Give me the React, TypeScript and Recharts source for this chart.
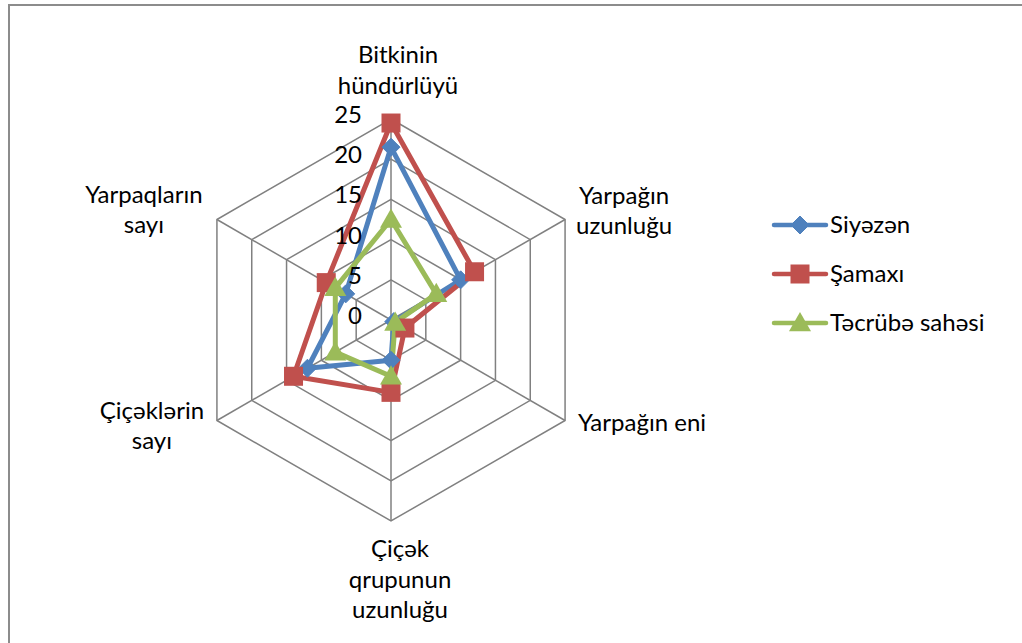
import { RadarChart, Radar, PolarGrid, PolarAngleAxis, PolarRadiusAxis } from "recharts";

const categories = [
  "Bitkinin hündürlüyü",
  "Yarpağın uzunluğu",
  "Yarpağın eni",
  "Çiçək qrupunun uzunluğu",
  "Çiçəklərin sayı",
  "Yarpaqların sayı",
];
const labelLines = [
  ["Bitkinin", "hündürlüyü"],
  ["Yarpağın", "uzunluğu"],
  ["Yarpağın eni"],
  ["Çiçək", "qrupunun", "uzunluğu"],
  ["Çiçəklərin", "sayı"],
  ["Yarpaqların", "sayı"],
];
const siyazen = [21.5, 10, 0.4, 5, 12, 6.5];
const shamaxi = [24.5, 12, 2, 9, 14, 9.3];
const tacrube = [12.5, 6.5, 0.6, 7, 8, 8];
const radiusTicks = [0, 5, 10, 15, 20, 25];

const seriesNames = ["Siyəzən", "Şamaxı", "Təcrübə sahəsi"];
const COLORS = ["#4F81BD", "#C0504D", "#9BBB59"];

const data = categories.map((c, i) => ({
  name: c,
  s: siyazen[i],
  m: shamaxi[i],
  t: tacrube[i],
}));

// chart geometry (chart coords; wrapper sits at page 8,4)
const CX = 383;
const CY = 316;
const R = 201;
const FONT = "Lato, 'Open Sans', sans-serif";
const FS = 24;

// label offsets from each spoke's outer vertex: [dx, firstBaselineDy, anchor]
const LABEL_POS: [number, number, "start" | "middle" | "end"][] = [
  [7, -56, "middle"],
  [59, -16, "middle"],
  [13, 10, "start"],
  [9, 36, "middle"],
  [-65, -2, "middle"],
  [-73, -17, "middle"],
];

function AngleTick(props: any) {
  const idx = categories.indexOf(props.payload.value);
  const a = ((90 - idx * 60) * Math.PI) / 180;
  const vx = CX + R * Math.cos(a);
  const vy = CY - R * Math.sin(a);
  const [dx, dy, anchor] = LABEL_POS[idx];
  return (
    <text x={vx + dx} y={vy + dy} textAnchor={anchor} fontFamily={FONT} fontSize={FS} fill="#000">
      {labelLines[idx].map((l, k) => (
        <tspan key={k} x={vx + dx} dy={k === 0 ? 0 : 30.5}>
          {l}
        </tspan>
      ))}
    </text>
  );
}

function RadiusTick(props: any) {
  return (
    <text x={props.x - 29} y={props.y} dy={4} textAnchor="end" fontFamily={FONT} fontSize={FS} fill="#000">
      {props.payload.value}
    </text>
  );
}

function marker(kind: number, cx: number, cy: number, key?: any) {
  if (kind === 0) {
    const s = 9;
    return (
      <path key={key} d={`M${cx},${cy - s} L${cx + s},${cy} L${cx},${cy + s} L${cx - s},${cy} Z`} fill={COLORS[0]} stroke={COLORS[0]} />
    );
  }
  if (kind === 1) {
    const s = 9.5;
    return <rect key={key} x={cx - s} y={cy - s} width={2 * s} height={2 * s} fill={COLORS[1]} />;
  }
  const s = 11;
  return (
    <path key={key} d={`M${cx},${cy - s} L${cx + s},${cy + s * 0.75} L${cx - s},${cy + s * 0.75} Z`} fill={COLORS[2]} />
  );
}

const dotFor = (kind: number) => (p: any) => marker(kind, p.cx, p.cy, p.key ?? `${kind}-${p.index}`);

function LegendBox() {
  const rows = [223, 272, 321];
  return (
    <svg width={262} height={180} style={{ position: "absolute", left: 760, top: 180 }}>
      {seriesNames.map((n, i) => {
        const y = rows[i] - 180;
        return (
          <g key={n}>
            <line x1={12} x2={64} y1={y} y2={y} stroke={COLORS[i]} strokeWidth={4.5} strokeLinecap="round" />
            {marker(i, 38, y)}
            <text x={68} y={y} dy={8} fontFamily={FONT} fontSize={FS} fill="#000">
              {n}
            </text>
          </g>
        );
      })}
    </svg>
  );
}

export default function App() {
  const keys = ["s", "m", "t"];
  return (
    <div
      style={{
        position: "absolute",
        left: 8,
        top: 4,
        width: 1014,
        height: 639,
        borderTop: "2px solid #8c8c8c",
        borderLeft: "2px solid #8c8c8c",
        boxSizing: "border-box",
        background: "#fff",
      }}
    >
      <div style={{ position: "absolute", left: -2, top: -2 }}>
        <RadarChart width={1014} height={639} data={data} cx={CX} cy={CY} outerRadius={R}>
          <PolarGrid gridType="polygon" stroke="#808080" strokeWidth={1.5} />
          <PolarAngleAxis dataKey="name" tick={AngleTick} tickLine={false} axisLine={false} />
          <PolarRadiusAxis
            angle={90}
            domain={[0, 25]}
            ticks={radiusTicks as any}
            tickCount={6}
            tick={RadiusTick}
            axisLine={false}
            tickLine={false}
          />
          {keys.map((k, i) => (
            <Radar
              key={k}
              name={seriesNames[i]}
              dataKey={k}
              stroke={COLORS[i]}
              strokeWidth={5}
              strokeLinejoin="round"
              fill="none"
              fillOpacity={0}
              dot={dotFor(i)}
              isAnimationActive={false}
            />
          ))}
        </RadarChart>
      </div>
      <div style={{ position: "absolute", left: -8, top: -4 }}>
        <LegendBox />
      </div>
    </div>
  );
}
